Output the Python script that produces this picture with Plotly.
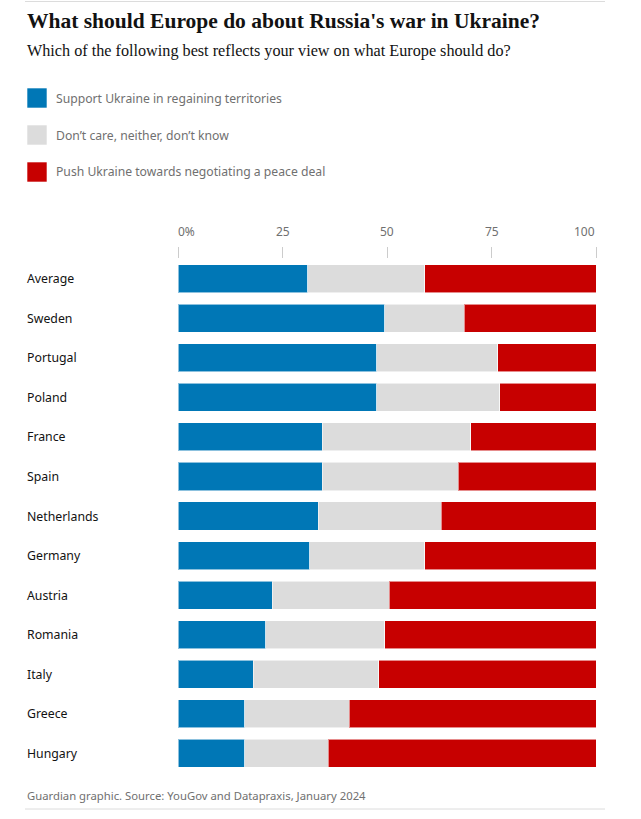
import plotly.graph_objects as go

countries = ["Average", "Sweden", "Portugal", "Poland", "France", "Spain", "Netherlands",
             "Germany", "Austria", "Romania", "Italy", "Greece", "Hungary"]
support = [31, 49.5, 47.5, 47.5, 34.5, 34.5, 33.5, 31.5, 22.5, 21, 18, 16, 16]
neutral = [28, 19, 29, 29.5, 35.5, 32.5, 29.5, 27.5, 28, 28.5, 30, 25, 20]
negotiate = [41, 31.5, 23.5, 23, 30, 33, 37, 41, 49.5, 50.5, 52, 59, 64]

series_names = ["Support Ukraine in regaining territories",
                "Don\u2019t care, neither, don\u2019t know",
                "Push Ukraine towards negotiating a peace deal"]
series_colors = ["#0077b6", "#dcdcdc", "#c70000"]
tick_vals = [0, 25, 50, 75, 100]
tick_text = ["0%", "25", "50", "75", "100"]

W, H = 641, 819
L, R, T, B = 178, 45, 259, 46
PW, PH = W - L - R, H - T - B


def px(x):
    return (x - L) / PW


def py(y):
    return (H - B - y) / PH


fig = go.Figure()
for name, vals, col in zip(series_names, [support, neutral, negotiate], series_colors):
    fig.add_trace(go.Bar(
        y=countries, x=vals, name=name, orientation="h",
        marker=dict(color=col, line=dict(color="rgba(255,255,255,0.55)", width=1)),
        showlegend=False, hoverinfo="x+y+name"))

ann = []
ann.append(dict(text="<b>What should Europe do about Russia's war in Ukraine?</b>",
                xref="paper", yref="paper", x=px(25), y=py(21), xanchor="left", yanchor="middle",
                showarrow=False, font=dict(family="Liberation Serif", size=21.5, color="#121212")))
ann.append(dict(text="Which of the following best reflects your view on what Europe should do?",
                xref="paper", yref="paper", x=px(25), y=py(51), xanchor="left", yanchor="middle",
                showarrow=False, font=dict(family="Liberation Serif", size=16.2, color="#121212")))
shapes = []
leg_y = [98, 135, 172]
for name, col, yy in zip(series_names, series_colors, leg_y):
    shapes.append(dict(type="rect", xref="paper", yref="paper",
                       x0=px(27), x1=px(47), y0=py(yy - 10), y1=py(yy + 10),
                       fillcolor=col, line=dict(color="rgba(255,255,255,0.6)", width=1)))
    ann.append(dict(text=name, xref="paper", yref="paper", x=px(54), y=py(yy),
                    xanchor="left", yanchor="middle", showarrow=False,
                    font=dict(family="Noto Sans", size=12.2, color="#707070")))
for v, t in zip(tick_vals, tick_text):
    xa = "left" if v == 0 else ("right" if v == 100 else "center")
    ann.append(dict(text=t, xref="x", yref="paper", x=v, y=py(232), xanchor=xa, yanchor="middle",
                    xshift=-2 if v == 0 else (1 if v == 100 else 0),
                    showarrow=False, font=dict(family="Noto Sans", size=12, color="#707070")))
for c in countries:
    ann.append(dict(text=c, xref="paper", yref="y", x=px(25), y=c, xanchor="left", yanchor="middle",
                    showarrow=False, font=dict(family="Noto Sans", size=12.3, color="#121212")))
ann.append(dict(text="Guardian graphic. Source: YouGov and Datapraxis, January 2024",
                xref="paper", yref="paper", x=px(25), y=py(795), xanchor="left", yanchor="middle",
                showarrow=False, font=dict(family="Noto Sans", size=11.3, color="#707070")))
shapes.append(dict(type="line", xref="paper", yref="paper", x0=px(25), x1=px(605), y0=py(1.5), y1=py(1.5),
                   line=dict(color="#dcdcdc", width=1)))
shapes.append(dict(type="line", xref="paper", yref="paper", x0=px(25), x1=px(605), y0=py(809), y1=py(809),
                   line=dict(color="#dcdcdc", width=1)))

fig.update_layout(
    width=W, height=H, margin=dict(l=L, r=R, t=T, b=B, pad=0),
    barmode="stack", bargap=0.29,
    plot_bgcolor="white", paper_bgcolor="white",
    annotations=ann, shapes=shapes,
    xaxis=dict(range=[0, 100], side="top", tickvals=tick_vals, showticklabels=False,
               ticks="outside", ticklen=11, tickcolor="#cccccc", tickwidth=1,
               showgrid=False, zeroline=False, showline=False, fixedrange=True),
    yaxis=dict(categoryorder="array", categoryarray=countries, autorange="reversed",
               showticklabels=False, showgrid=False, zeroline=False, showline=False, fixedrange=True),
)

fig.write_html("out.html", config={"displayModeBar": False})
